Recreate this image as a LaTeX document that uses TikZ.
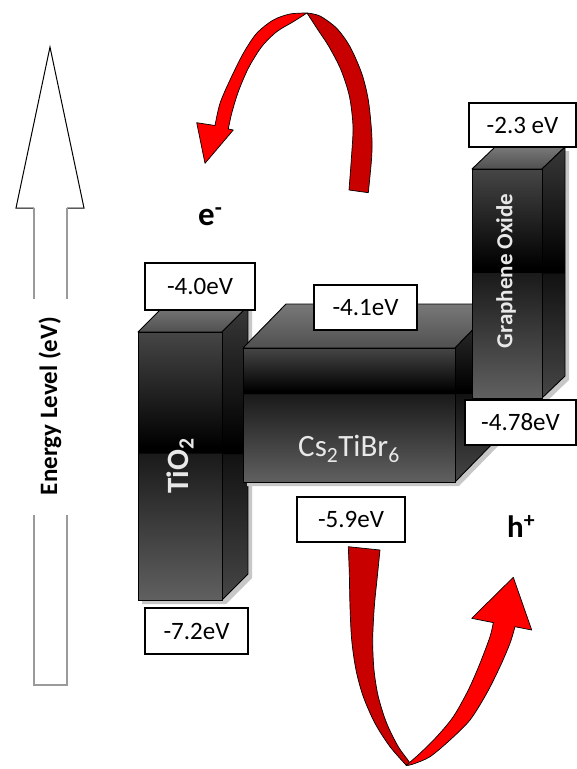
\documentclass[tikz,border=0pt]{standalone}
\usepackage{fontspec}
\setmainfont{Carlito}
\definecolor{mTop}{HTML}{464646}
\definecolor{mBelow}{HTML}{1A1A1A}
\definecolor{mBot}{HTML}{606060}
\definecolor{sTop}{HTML}{383838}
\definecolor{sBelow}{HTML}{121212}
\definecolor{sBot}{HTML}{464646}
\definecolor{tTop}{HTML}{787878}
\definecolor{tBot}{HTML}{505050}
\definecolor{redA}{HTML}{FF0000}
\definecolor{redB}{HTML}{C80000}
\definecolor{labtxt}{HTML}{E8E8E8}
\definecolor{shaftgray}{HTML}{9A9A9A}
\pgfdeclareverticalshading{frontA}{100bp}{color(0bp)=(mBot); color(25bp)=(mBot); color(52.3bp)=(mBelow); color(52.5bp)=(black); color(53.5bp)=(black); color(75bp)=(mTop); color(100bp)=(mTop)}
\pgfdeclareverticalshading{frontB}{100bp}{color(0bp)=(mBot); color(25bp)=(mBot); color(57.8bp)=(mBelow); color(58bp)=(black); color(59bp)=(black); color(75bp)=(mTop); color(100bp)=(mTop)}
\pgfdeclareverticalshading{sideS}{100bp}{color(0bp)=(sBot); color(25bp)=(sBot); color(49.8bp)=(sBelow); color(50bp)=(black); color(51bp)=(black); color(75bp)=(sTop); color(100bp)=(sTop)}
\pgfdeclareverticalshading{topS}{100bp}{color(0bp)=(tBot); color(25bp)=(tBot); color(75bp)=(tTop); color(100bp)=(tTop)}
\tikzset{
  edge/.style={draw=black, line width=0.9pt, line join=round},
  shadowfill/.style={fill=black!22},
  lab/.style={draw=black, line width=1.2pt, fill=white, inner sep=0pt, font=\fontsize{25}{25}\selectfont},
  redfront/.style={fill=redA, draw=black, line width=0.7pt, line join=round},
  redback/.style={fill=redB, draw=black, line width=0.7pt, line join=round},
}
\begin{document}
\begin{tikzpicture}[x=1pt,y=-1pt]
\fill[white] (0,0) rectangle (577,769);
\useasboundingbox (0,0) rectangle (577,769);

% ---------- energy axis arrow ----------
\draw[black, line width=1pt, line join=miter] (34,208) -- (16,208) -- (50,47) -- (84,208) -- (67,208);
\draw[shaftgray, line width=1.4pt] (34,208) -- (34,299) (67,208) -- (67,299);
\draw[shaftgray, line width=1.4pt] (34,515) -- (34,685) -- (67,685) -- (67,515);
\node[rotate=90, font=\bfseries\fontsize{25}{25}\selectfont] (elab) at (50,406) {Energy Level (eV)};

% ---------- TiO2 block ----------
\fill[shadowfill] (142,336) -- (168,310) -- (252,310) -- (252,578) -- (226,604) -- (142,604) -- cycle;
\shade[shading=topS, edge] (138,332) -- (164,306) -- (248,306) -- (222,332) -- cycle;
\begin{scope}
\clip (222,332) -- (248,306) -- (248,574) -- (222,600) -- cycle;
\shade[shading=sideS] (222,306) rectangle (248,600);
\end{scope}
\draw[edge] (222,332) -- (248,306) -- (248,574) -- (222,600) -- cycle;
\shade[shading=frontA] (138,332) rectangle (222,600);
\draw[edge] (138,332) rectangle (222,600);
\node[rotate=90, font=\bfseries\fontsize{31}{31}\selectfont, text=labtxt] (tio2) at (180,466) {TiO\textsubscript{2}};

% ---------- Cs2TiBr6 block ----------
\fill[shadowfill] (247,352) -- (290,308) -- (502,308) -- (502,442) -- (459,486) -- (247,486) -- cycle;
\shade[shading=topS, edge] (243,348) -- (286,304) -- (498,304) -- (455,348) -- cycle;
\begin{scope}
\clip (455,348) -- (498,304) -- (498,438) -- (455,482) -- cycle;
\shade[shading=sideS] (455,304) rectangle (498,482);
\end{scope}
\draw[edge] (455,348) -- (498,304) -- (498,438) -- (455,482) -- cycle;
\shade[shading=frontB] (243,348) rectangle (455,482);
\draw[edge] (243,348) rectangle (455,482);
\node[font=\fontsize{31}{31}\selectfont, text=labtxt] (cs) at (349,449) {Cs\textsubscript{2}TiBr\textsubscript{6}};

% ---------- Graphene oxide block ----------
\fill[shadowfill] (476,173) -- (499,151) -- (569,151) -- (569,380) -- (546,402) -- (476,402) -- cycle;
\shade[shading=topS, edge] (472,169) -- (495,147) -- (565,147) -- (542,169) -- cycle;
\begin{scope}
\clip (542,169) -- (565,147) -- (565,376) -- (542,398) -- cycle;
\shade[shading=sideS] (542,147) rectangle (565,398);
\end{scope}
\draw[edge] (542,169) -- (565,147) -- (565,376) -- (542,398) -- cycle;
\shade[shading=frontA] (472,169) rectangle (542,398);
\draw[edge] (472,169) rectangle (542,398);
\node[rotate=90, font=\bfseries\fontsize{23}{23}\selectfont, text=labtxt] (go) at (506,271) {Graphene Oxide};

% ---------- energy labels ----------
\node[lab, minimum width=110pt, minimum height=47pt] (l40) at (200,286.5) {-4.0eV};
\node[lab, minimum width=103pt, minimum height=45pt] (l41) at (365.5,307.5) {-4.1eV};
\node[lab, minimum width=107pt, minimum height=44pt] (l23) at (522.5,125) {-2.3 eV};
\node[lab, minimum width=111pt, minimum height=45pt] (l478) at (520.5,422.5) {-4.78eV};
\node[lab, minimum width=108pt, minimum height=45pt] (l59) at (351,519.5) {-5.9eV};
\node[lab, minimum width=103pt, minimum height=46pt] (l72) at (196.5,631) {-7.2eV};

% ---------- electron arrow ----------
\filldraw[redback] plot[smooth] coordinates {(368.3,192.7) (371.7,156.7) (371.7,133.3) (368.3,100) (361.7,73.3) (350,46.7) (336.7,28.3) (320,16) (307,13)}
  -- plot[smooth] coordinates {(307,13) (318,30) (329,46.7) (341,70) (349.5,96.7) (353,126.7) (351.5,156.7) (349,190)} -- cycle;
\filldraw[redfront] (196.7,122.7) -- (205,163.3) -- (233.3,130) -- (228.3,129)
  -- plot[smooth] coordinates {(228.3,129) (231.7,113.3) (238.3,91.7) (248.3,68.3) (261.7,46.7) (276.7,31.7) (293.3,21.7) (307,13)}
  -- plot[smooth] coordinates {(307,13) (290,14) (273.3,20) (256.7,33.3) (243.3,53.3) (230,80) (220,103.3) (215,125.5)} -- cycle;
\node[anchor=base west, inner sep=0pt, font=\bfseries\fontsize{33}{33}\selectfont] (elec) at (198,225) {e\textsuperscript{-}};

% ---------- hole arrow ----------
\filldraw[redback] plot[smooth] coordinates {(348.3,546.7) (349.3,573.3) (350,606.7) (351.7,640) (356,670) (363.3,696.7) (375,723.3) (390,746.7) (406,765)}
  -- plot[smooth] coordinates {(406,765) (410,763.3) (398.3,746.7) (386.7,723.3) (378.3,696.7) (374,670) (372.7,640) (374.3,606.7) (377.3,576.7) (380,550)} -- cycle;
\filldraw[redfront] (471.7,618.3) -- (513.3,577.3) -- (531.7,630) -- (515,626.7)
  -- plot[smooth] coordinates {(515,626.7) (510,643.3) (500,666.7) (486.7,693.3) (470,720) (450,740) (430,756.7) (413.3,764) (406,765.5)}
  -- plot[smooth] coordinates {(406,765.5) (420,753.3) (436.7,736.7) (453.3,716.7) (468.3,690) (480,663.3) (490,636.7) (493.3,622.6)} -- cycle;
\node[anchor=base west, inner sep=0pt, font=\bfseries\fontsize{31}{31}\selectfont] (hole) at (507,537) {h\textsuperscript{+}};
\end{tikzpicture}
\end{document}
